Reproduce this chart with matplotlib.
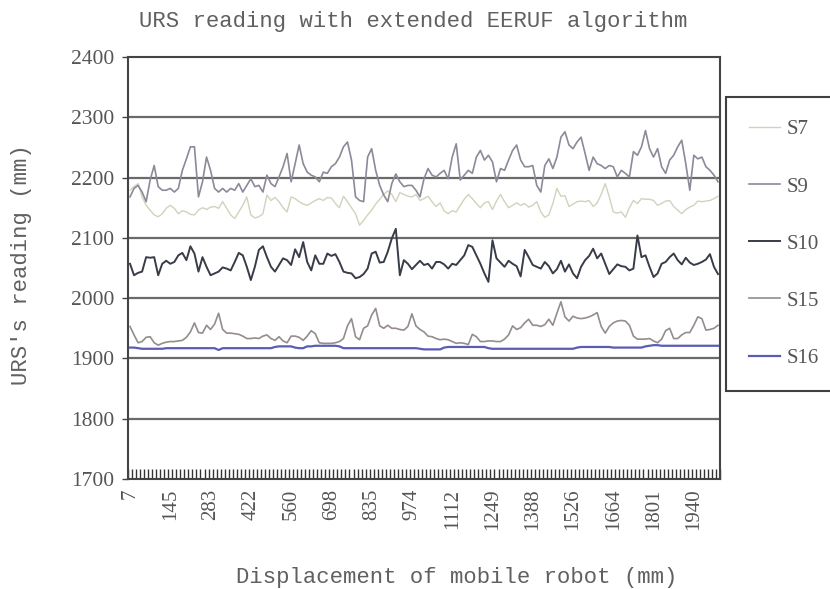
import numpy as np
import matplotlib
matplotlib.use('Agg')
import matplotlib.pyplot as plt

# category labels shown on the x axis (every 10th category)
rotulos_x = ['7', '145', '283', '422', '560', '698', '835', '974', '1112',
             '1249', '1388', '1526', '1664', '1801', '1940']

# URS readings (mm), one value per category (147 categories)
s9 = [2168, 2182, 2187, 2176, 2160, 2196, 2220, 2185, 2179, 2179,
      2182, 2176, 2182, 2212, 2231, 2251, 2251, 2168, 2193, 2234,
      2212, 2182, 2176, 2182, 2176, 2182, 2179, 2190, 2176, 2187,
      2198, 2185, 2187, 2176, 2204, 2190, 2185,
      2201, 2218, 2240, 2193, 2223, 2254, 2223, 2209, 2204, 2201,
      2193, 2209, 2207, 2218, 2223, 2234, 2251, 2259, 2229, 2168,
      2162, 2160, 2234, 2248, 2212, 2187, 2171, 2160, 2190, 2206,
      2193, 2185, 2187, 2187, 2179, 2168,
      2198, 2215, 2204, 2201, 2207, 2212, 2198, 2234, 2256, 2196,
      2204, 2212, 2207, 2234, 2245, 2229, 2237, 2226, 2193, 2215,
      2212, 2229, 2245, 2254, 2229, 2218, 2218, 2220, 2187, 2176,
      2220, 2231, 2215, 2234, 2267, 2276,
      2254, 2248, 2259, 2267, 2240, 2212, 2234, 2223, 2220, 2215,
      2220, 2218, 2201, 2212, 2207, 2201, 2243, 2237, 2251, 2278,
      2248, 2234, 2248, 2218, 2207, 2229, 2237, 2251, 2262, 2223,
      2179, 2237, 2231, 2234, 2218, 2212, 2204, 2193]

s7 = [2179, 2185, 2190, 2168, 2154, 2146, 2138, 2135, 2140, 2149,
      2154, 2149, 2140, 2145, 2143, 2139, 2138, 2146, 2150, 2147,
      2151, 2152, 2149, 2160, 2149, 2138, 2132, 2143, 2154, 2168,
      2138, 2133, 2135, 2140, 2171, 2162, 2167,
      2160, 2150, 2143, 2168, 2165, 2160, 2156, 2154, 2158, 2162,
      2165, 2162, 2167, 2166, 2157, 2150, 2169, 2160, 2150, 2140,
      2121, 2129, 2138, 2146, 2156, 2164, 2172, 2178, 2172, 2160,
      2175, 2172, 2169, 2168, 2172, 2162,
      2165, 2169, 2160, 2152, 2158, 2145, 2140, 2145, 2143, 2154,
      2164, 2172, 2165, 2157, 2150, 2158, 2160, 2147, 2161, 2172,
      2160, 2150, 2154, 2158, 2154, 2157, 2151, 2154, 2160, 2143,
      2134, 2138, 2157, 2182, 2169, 2170,
      2152, 2156, 2160, 2161, 2160, 2162, 2152, 2158, 2172, 2190,
      2168, 2143, 2141, 2143, 2134, 2150, 2162, 2157, 2165, 2164,
      2164, 2162, 2154, 2157, 2161, 2162, 2152, 2146, 2140, 2147,
      2151, 2154, 2161, 2160, 2161, 2162, 2165, 2169]

s10 = [2057, 2038, 2042, 2044, 2068, 2067, 2068, 2038, 2057, 2062,
       2057, 2060, 2071, 2075, 2063, 2086, 2074, 2044, 2068, 2052,
       2038, 2041, 2044, 2051, 2049, 2046, 2060, 2075, 2071, 2052,
       2030, 2052, 2080, 2086, 2068, 2052, 2044,
       2055, 2066, 2063, 2055, 2081, 2068, 2093, 2060, 2046, 2071,
       2057, 2057, 2074, 2070, 2073, 2060, 2044, 2042, 2041, 2033,
       2035, 2040, 2049, 2074, 2077, 2059, 2060, 2077, 2099, 2115,
       2038, 2063, 2057, 2048, 2055, 2062,
       2055, 2057, 2049, 2060, 2060, 2056, 2049, 2057, 2055, 2063,
       2071, 2088, 2085, 2071, 2057, 2041, 2027, 2096, 2066, 2059,
       2052, 2062, 2057, 2053, 2036, 2080, 2068, 2055, 2052, 2049,
       2060, 2053, 2041, 2048, 2062, 2044,
       2056, 2041, 2033, 2052, 2063, 2070, 2082, 2066, 2074, 2057,
       2040, 2048, 2056, 2053, 2052, 2046, 2049, 2104, 2068, 2071,
       2052, 2035, 2041, 2057, 2060, 2068, 2074, 2063, 2056, 2067,
       2059, 2055, 2057, 2060, 2064, 2073, 2052, 2040]

s15 = [1953, 1939, 1926, 1928, 1935, 1936, 1926, 1922, 1925, 1927,
       1928, 1928, 1929, 1930, 1935, 1944, 1959, 1943, 1942, 1955,
       1948, 1957, 1975, 1948, 1942, 1942, 1941, 1940, 1937, 1933,
       1933, 1934, 1933, 1937, 1939, 1933, 1930, 1936, 1929, 1926,
       1937, 1937, 1935, 1930, 1937, 1946, 1941, 1926, 1925, 1925,
       1925, 1926, 1928, 1933, 1954, 1966, 1936, 1931, 1950, 1954,
       1972, 1983, 1954, 1950, 1955, 1950, 1950, 1948, 1947, 1953,
       1974, 1954, 1948, 1944, 1937, 1936, 1933, 1931,
       1932, 1931, 1928, 1925, 1926, 1925, 1923, 1940, 1936, 1928,
       1928, 1929, 1929, 1928, 1928, 1932, 1939, 1954, 1948, 1951,
       1959, 1965, 1955, 1955, 1953, 1956, 1965, 1955, 1975, 1994,
       1969, 1962, 1970, 1967, 1966, 1967, 1969, 1972, 1976, 1953,
       1942, 1953, 1959, 1962, 1963, 1962, 1955, 1937, 1932, 1932,
       1932, 1933, 1929, 1926, 1932, 1946, 1950, 1933, 1933, 1939,
       1943, 1943, 1955, 1969, 1966, 1947, 1948, 1950, 1955]

s16 = [1918, 1918, 1917, 1916, 1916, 1916, 1916, 1916, 1916, 1917,
       1917, 1917, 1917, 1917, 1917, 1917, 1917, 1917, 1917, 1917,
       1917, 1917, 1914, 1917, 1917, 1917, 1917, 1917, 1917, 1917,
       1917, 1917, 1917, 1917, 1917, 1917, 1919, 1920, 1920, 1920,
       1920, 1918, 1917, 1917, 1920, 1920, 1921, 1921, 1921, 1921,
       1921, 1921, 1920, 1917, 1917, 1917, 1917, 1917, 1917, 1917,
       1917, 1917, 1917, 1917, 1917, 1917, 1917, 1917, 1917, 1917,
       1917, 1917, 1916, 1915, 1915, 1915, 1915, 1915, 1918, 1919,
       1919, 1919, 1919, 1919, 1919, 1919, 1919, 1919, 1919, 1917,
       1916, 1916, 1916, 1916, 1916, 1916, 1916, 1916, 1916, 1916,
       1916, 1916, 1916, 1916, 1916, 1916, 1916, 1916, 1916, 1916,
       1916, 1918, 1919, 1919, 1919, 1919, 1919, 1919, 1919, 1919,
       1918, 1918, 1918, 1918, 1918, 1918, 1918, 1918, 1920, 1921,
       1922, 1922, 1921, 1921, 1921, 1921, 1921, 1921, 1921, 1921,
       1921, 1921, 1921, 1921, 1921, 1921, 1921]

linhas_grade = [1800, 1900, 2000, 2100, 2200, 2300]

series = [(s7, 'S7', '#d2d2bc', 1.0),
          (s9, 'S9', '#8e8898', 1.2),
          (s10, 'S10', '#383c48', 1.4),
          (s15, 'S15', '#958c8c', 1.2),
          (s16, 'S16', '#5c5cb4', 1.6)]

serif = 'Liberation Serif'
mono = 'Liberation Mono'
cinza = '#555555'

fig = plt.figure(figsize=(8.3, 5.89), dpi=100)
ax = fig.add_axes([128/830, 1-479/589, (720-128)/830, (479-57)/589])

for y in linhas_grade:
    ax.axhline(y, color='#6a6a6a', lw=1.6, zorder=1)

n = len(s9)
x = np.arange(n)
for dados, nome, cor, lw in series:
    ax.plot(x, dados, color=cor, lw=lw, label=nome, zorder=3)

ax.set_xlim(-0.5, n - 0.5)
ax.set_ylim(1700, 2400)
ax.set_yticks(np.arange(1700, 2401, 100))
ax.set_xticks(np.arange(0, 10*len(rotulos_x), 10))
ax.set_xticklabels(rotulos_x, rotation=90, family=serif, fontsize=15, color=cinza)
ax.set_xticks(np.arange(-0.5, n, 1), minor=True)
ax.tick_params(axis='x', which='major', length=0, pad=7)
ax.tick_params(axis='x', which='minor', direction='in', length=7, width=1, color='#333333')
ax.tick_params(axis='y', direction='out', length=4, width=1, color='#444444',
               labelsize=15.5, labelcolor=cinza, pad=6)
for lab in ax.get_yticklabels():
    lab.set_family(serif)
for s in ax.spines.values():
    s.set_color('#444444')
    s.set_linewidth(1.5)

fig.text(413/830, 1-22/589, 'URS reading with extended EERUF algorithm',
         family=mono, fontsize=16, color='#606060', ha='center', va='center')
fig.text(457/830, 1-577/589, 'Displacement of mobile robot (mm)',
         family=mono, fontsize=16, color='#606060', ha='center', va='center')
fig.text(22/830, 1-265/589, "URS's reading (mm)", rotation=90,
         family=mono, fontsize=16, color='#606060', ha='center', va='center')

leg = ax.legend(loc='upper left', bbox_to_anchor=(726/830, 1-97/589),
                bbox_transform=fig.transFigure, prop={'family': serif, 'size': 15},
                labelcolor=cinza, frameon=True, fancybox=False, framealpha=1,
                edgecolor='#404040', labelspacing=1.8, borderpad=1.1,
                handlelength=1.5, handletextpad=0.3, borderaxespad=0)
leg.get_frame().set_linewidth(1.5)

fig.savefig('out.png', dpi=100)
